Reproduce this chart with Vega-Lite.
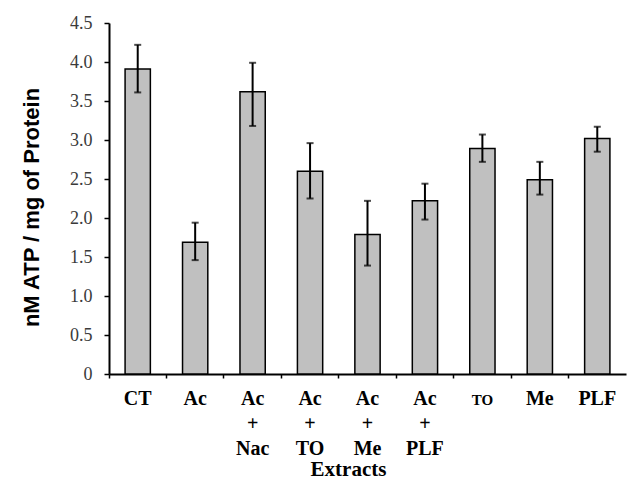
{
  "$schema": "https://vega.github.io/schema/vega-lite/v6.json",
  "width": 517,
  "height": 351,
  "autosize": "none",
  "padding": {"left": 109, "top": 23, "right": 5, "bottom": 105},
  "background": "white",
  "config": {
    "view": {"stroke": null},
    "axisX": {"titleFont": "Liberation Serif", "titleFontSize": 21, "titleFontWeight": "bold", "labelFont": "Liberation Serif"},
    "axisY": {"labelFont": "Liberation Serif", "labelFontSize": 18, "labelColor": "#3a3a3a", "titleFont": "Liberation Sans"}
  },
  "resolve": {"axis": {"y": "independent"}},
  "data": {
    "values": [
      {"extract": "CT", "mean": 3.91, "hi": 4.22, "lo": 3.61},
      {"extract": "Ac", "mean": 1.69, "hi": 1.94, "lo": 1.46},
      {"extract": "Ac|+|Nac", "mean": 3.62, "hi": 3.99, "lo": 3.18},
      {"extract": "Ac|+|TO", "mean": 2.6, "hi": 2.96, "lo": 2.25},
      {"extract": "Ac|+|Me", "mean": 1.79, "hi": 2.22, "lo": 1.39},
      {"extract": "Ac|+|PLF", "mean": 2.22, "hi": 2.44, "lo": 1.98},
      {"extract": "TO", "mean": 2.89, "hi": 3.07, "lo": 2.72},
      {"extract": "Me", "mean": 2.49, "hi": 2.72, "lo": 2.3},
      {"extract": "PLF", "mean": 3.02, "hi": 3.17, "lo": 2.85}
    ]
  },
  "encoding": {
    "x": {
      "field": "extract",
      "type": "nominal",
      "sort": null,
      "scale": {"paddingInner": 0, "paddingOuter": 0},
      "axis": {
        "title": "Extracts",
        "titleFont": "Liberation Serif",
        "titleFontWeight": "bold",
        "titleFontSize": 21,
        "titleColor": "black",
        "titleBaseline": "alphabetic",
        "titleX": 239,
        "titleY": 101,
        "titleAnchor": null,
        "labelExpr": "split(datum.label, '|')",
        "labelAngle": 0,
        "labelFont": "Liberation Serif",
        "labelFontWeight": "bold",
        "labelFontSize": {"condition": {"test": "datum.label == 'TO'", "value": 15}, "value": 20},
        "labelColor": "black",
        "labelBaseline": "alphabetic",
        "labelLineHeight": 25,
        "labelPadding": 26,
        "labelOverlap": false,
        "bandPosition": 0,
        "tickSize": 4,
        "tickColor": "black",
        "tickWidth": 1.5,
        "domainColor": "black",
        "domainWidth": 2,
        "grid": false
      }
    }
  },
  "layer": [
    {
      "mark": {"type": "bar", "width": {"band": 0.44}, "fill": "#c0c0c0", "stroke": "black", "strokeWidth": 1.5},
      "encoding": {
        "y": {
          "field": "mean",
          "type": "quantitative",
          "scale": {"domain": [0, 4.5], "nice": false},
          "axis": {
            "orient": "left",
            "title": "nM ATP / mg of Protein",
            "titleFont": "Liberation Sans",
            "titleFontWeight": "bold",
            "titleFontSize": 22,
            "titleColor": "black",
            "titleAngle": -90,
            "titleAlign": "center",
            "titleBaseline": "alphabetic",
            "titleX": -71,
            "titleY": 184,
            "values": [0, 0.5, 1, 1.5, 2, 2.5, 3, 3.5, 4, 4.5],
            "labelExpr": "datum.value == 0 ? '0' : format(datum.value, '.1f')",
            "labelFont": "Liberation Serif",
            "labelFontSize": 18,
            "labelColor": "#3a3a3a",
            "labelOverlap": false,
            "labelFlush": false,
            "labelPadding": 12,
            "tickSize": 5,
            "tickColor": "black",
            "tickWidth": 1.5,
            "domainColor": "black",
            "domainWidth": 2,
            "grid": false
          }
        }
      }
    },
    {
      "mark": {"type": "rule", "color": "black", "strokeWidth": 2},
      "encoding": {
        "y": {"field": "lo", "type": "quantitative", "axis": null},
        "y2": {"field": "hi"}
      }
    },
    {
      "mark": {"type": "tick", "color": "black", "size": 7, "thickness": 2},
      "encoding": {"y": {"field": "hi", "type": "quantitative", "axis": null}}
    },
    {
      "mark": {"type": "tick", "color": "black", "size": 7, "thickness": 2},
      "encoding": {"y": {"field": "lo", "type": "quantitative", "axis": null}}
    }
  ]
}
